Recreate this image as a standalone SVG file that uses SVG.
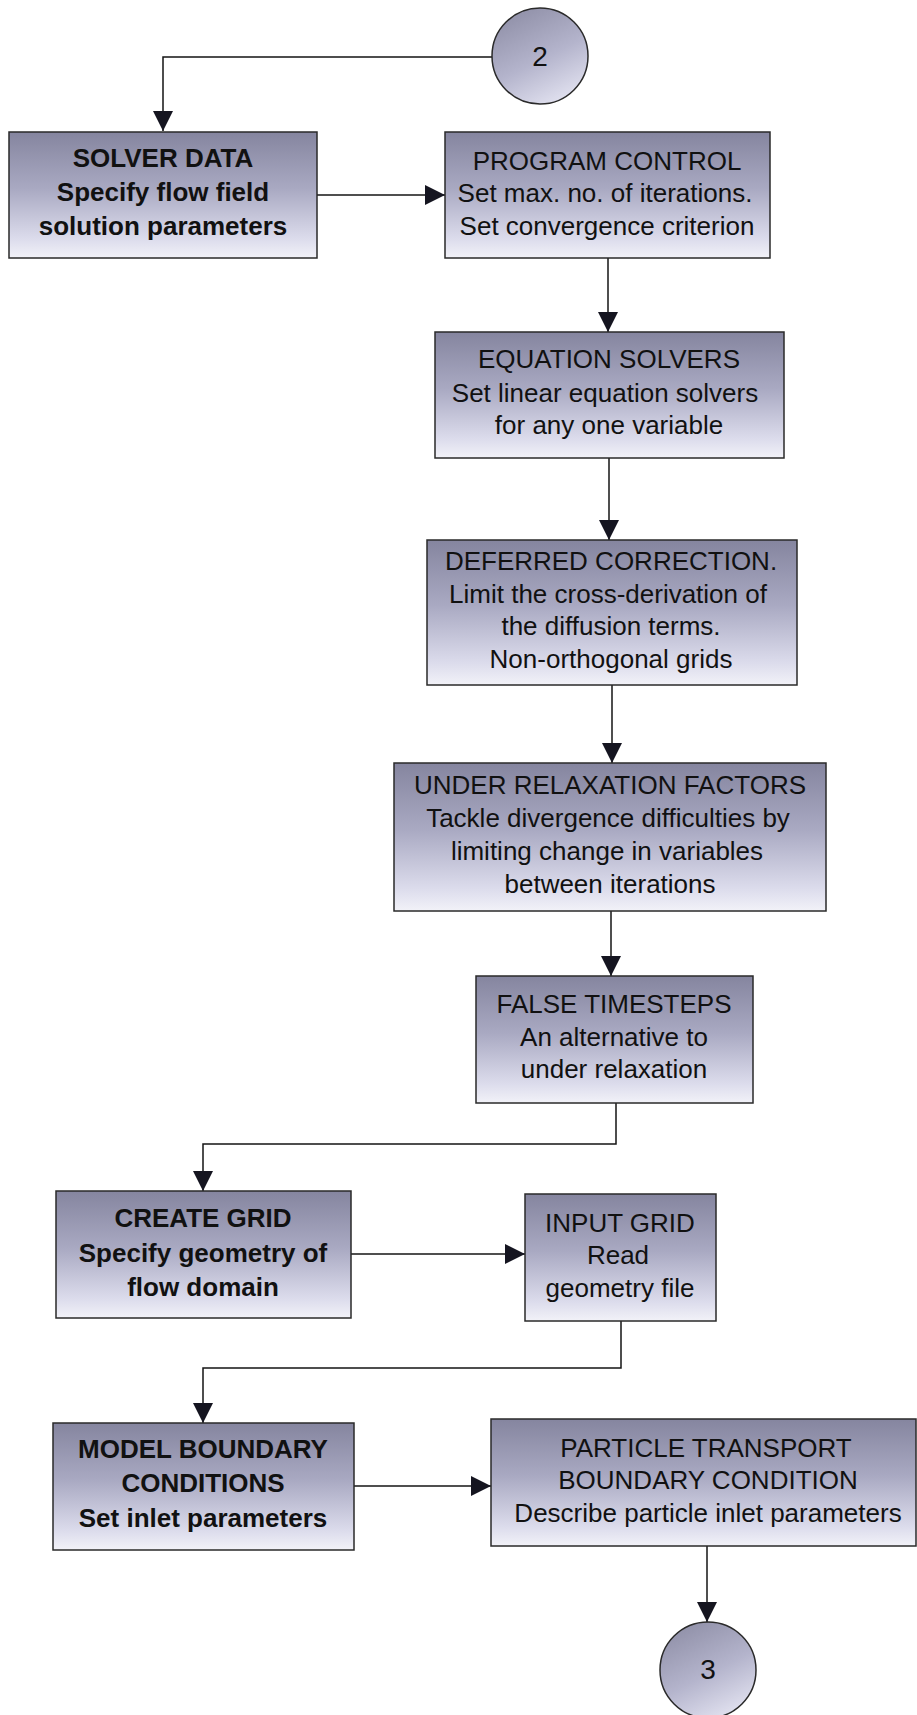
<svg xmlns="http://www.w3.org/2000/svg" width="917" height="1715" viewBox="0 0 917 1715">
  <defs>
    <linearGradient id="boxFill" x1="0" y1="0" x2="0" y2="1">
      <stop offset="0" stop-color="#85859f"/>
      <stop offset="0.45" stop-color="#a9a9c2"/>
      <stop offset="0.85" stop-color="#dcdcec"/>
      <stop offset="1" stop-color="#f2f2f8"/>
    </linearGradient>
    <linearGradient id="circleFill" x1="0.2" y1="0" x2="0.7" y2="1">
      <stop offset="0" stop-color="#8e8ea6"/>
      <stop offset="0.55" stop-color="#b4b4cc"/>
      <stop offset="1" stop-color="#e2e2f0"/>
    </linearGradient>
    <marker id="arrow" markerUnits="userSpaceOnUse" markerWidth="20" markerHeight="20" refX="20" refY="10" orient="auto">
      <path d="M0,0 L20,10 L0,20 Z" fill="#151520"/>
    </marker>
  </defs>
  <style>
    .box { fill: url(#boxFill); stroke: #2a2a2a; stroke-width: 1.5; }
    .term { fill: url(#circleFill); stroke: #2a2a2a; stroke-width: 1.5; }
    .lbl { font-family: "Liberation Sans", Arial, Helvetica, sans-serif; font-size: 26px; fill: #111; text-anchor: middle; }
    .bold { font-weight: bold; }
    .num { font-size: 28px; }
    .wire { fill: none; stroke: #151515; stroke-width: 1.5; }
  </style>

  <rect width="917" height="1715" fill="#ffffff"/>

  <!-- connectors -->
  <g id="connectors">
    <path class="wire" d="M492,57 H163 V131" marker-end="url(#arrow)"/>
    <path class="wire" d="M317,195 H445" marker-end="url(#arrow)"/>
    <path class="wire" d="M608,258 V332" marker-end="url(#arrow)"/>
    <path class="wire" d="M609,458 V540" marker-end="url(#arrow)"/>
    <path class="wire" d="M612,685 V763" marker-end="url(#arrow)"/>
    <path class="wire" d="M611,911 V976" marker-end="url(#arrow)"/>
    <path class="wire" d="M616,1103 V1144 H203 V1191" marker-end="url(#arrow)"/>
    <path class="wire" d="M351,1254 H525" marker-end="url(#arrow)"/>
    <path class="wire" d="M621,1321 V1368 H203 V1423" marker-end="url(#arrow)"/>
    <path class="wire" d="M354,1486 H491" marker-end="url(#arrow)"/>
    <path class="wire" d="M707,1546 V1622" marker-end="url(#arrow)"/>
  </g>

  <!-- off-page connector 2 -->
  <g id="connector-2">
    <circle class="term" cx="540" cy="56" r="48"/>
    <text class="lbl num" x="540" y="66">2</text>
  </g>

  <g id="solver-data">
    <rect class="box" x="9" y="132" width="308" height="126"/>
    <text class="lbl bold" x="163" y="167">SOLVER DATA</text>
    <text class="lbl bold" x="163" y="201">Specify flow field</text>
    <text class="lbl bold" x="163" y="235">solution parameters</text>
  </g>

  <g id="program-control">
    <rect class="box" x="445" y="132" width="325" height="126"/>
    <text class="lbl" x="607" y="170">PROGRAM CONTROL</text>
    <text class="lbl" x="605" y="202">Set max. no. of iterations.</text>
    <text class="lbl" x="607" y="235">Set convergence criterion</text>
  </g>

  <g id="equation-solvers">
    <rect class="box" x="435" y="332" width="349" height="126"/>
    <text class="lbl" x="609" y="368">EQUATION SOLVERS</text>
    <text class="lbl" x="605" y="402">Set linear equation solvers</text>
    <text class="lbl" x="609" y="434">for any one variable</text>
  </g>

  <g id="deferred-correction">
    <rect class="box" x="427" y="540" width="370" height="145"/>
    <text class="lbl" x="611" y="570">DEFERRED CORRECTION.</text>
    <text class="lbl" x="608" y="603">Limit the cross-derivation of</text>
    <text class="lbl" x="611" y="635">the diffusion terms.</text>
    <text class="lbl" x="611" y="668">Non-orthogonal grids</text>
  </g>

  <g id="under-relaxation">
    <rect class="box" x="394" y="763" width="432" height="148"/>
    <text class="lbl" x="610" y="794">UNDER RELAXATION FACTORS</text>
    <text class="lbl" x="608" y="827">Tackle divergence difficulties by</text>
    <text class="lbl" x="607" y="860">limiting change in variables</text>
    <text class="lbl" x="610" y="893">between iterations</text>
  </g>

  <g id="false-timesteps">
    <rect class="box" x="476" y="976" width="277" height="127"/>
    <text class="lbl" x="614" y="1013">FALSE TIMESTEPS</text>
    <text class="lbl" x="614" y="1046">An alternative to</text>
    <text class="lbl" x="614" y="1078">under relaxation</text>
  </g>

  <g id="create-grid">
    <rect class="box" x="56" y="1191" width="295" height="127"/>
    <text class="lbl bold" x="203" y="1227">CREATE GRID</text>
    <text class="lbl bold" x="203" y="1262">Specify geometry of</text>
    <text class="lbl bold" x="203" y="1296">flow domain</text>
  </g>

  <g id="input-grid">
    <rect class="box" x="525" y="1194" width="191" height="127"/>
    <text class="lbl" x="620" y="1232">INPUT GRID</text>
    <text class="lbl" x="618" y="1264">Read</text>
    <text class="lbl" x="620" y="1297">geometry file</text>
  </g>

  <g id="model-boundary">
    <rect class="box" x="53" y="1423" width="301" height="127"/>
    <text class="lbl bold" x="203" y="1458">MODEL BOUNDARY</text>
    <text class="lbl bold" x="203" y="1492">CONDITIONS</text>
    <text class="lbl bold" x="203" y="1527">Set inlet parameters</text>
  </g>

  <g id="particle-transport">
    <rect class="box" x="491" y="1419" width="425" height="127"/>
    <text class="lbl" x="706" y="1457">PARTICLE TRANSPORT</text>
    <text class="lbl" x="708" y="1489">BOUNDARY CONDITION</text>
    <text class="lbl" x="708" y="1522">Describe particle inlet parameters</text>
  </g>

  <!-- off-page connector 3 -->
  <g id="connector-3">
    <circle class="term" cx="708" cy="1670" r="48"/>
    <text class="lbl num" x="708" y="1679">3</text>
  </g>
</svg>
